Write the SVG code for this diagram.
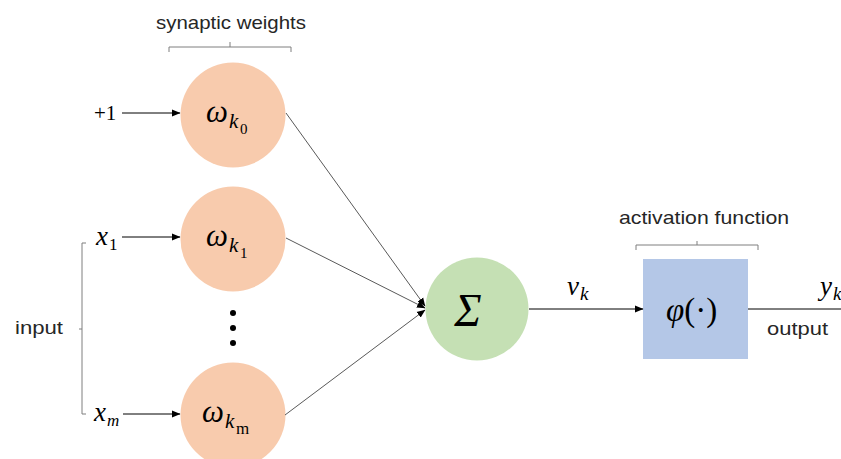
<svg xmlns="http://www.w3.org/2000/svg" width="841" height="459" viewBox="0 0 841 459">
<style>
.lbl{font-family:"Liberation Sans","DejaVu Sans",sans-serif;font-size:19px;fill:#262626}
.m{font-family:"Liberation Serif","DejaVu Serif",serif;font-style:italic;fill:#000}
.u{font-family:"Liberation Serif","DejaVu Serif",serif;font-style:normal;fill:#000}
.w{fill:#f8cbad}
.brace{fill:none;stroke:#7f7f7f;stroke-width:1}
.in{stroke:#000;stroke-width:1;fill:none}
.cn{stroke:#595959;stroke-width:1;fill:none}
</style>
<defs>
<marker id="ah" markerUnits="userSpaceOnUse" markerWidth="9" markerHeight="8" refX="8" refY="4" orient="auto">
<path d="M0,0.5 L8.5,4 L0,7.5 z" fill="#000"/>
</marker>
</defs>
<rect width="841" height="459" fill="#fff"/>

<g id="labels">
<text class="lbl" x="231" y="29" text-anchor="middle" textLength="150" lengthAdjust="spacingAndGlyphs">synaptic weights</text>
<path class="brace" d="M169,52 V47 H291 V52 M230,47 V42"/>
<text class="lbl" x="704" y="224" text-anchor="middle" textLength="170" lengthAdjust="spacingAndGlyphs">activation function</text>
<path class="brace" d="M636,250 V245 H758 V250 M697,245 V241"/>
<text class="lbl" x="15" y="334" textLength="48" lengthAdjust="spacingAndGlyphs">input</text>
<path class="brace" d="M86,243 H82 V414 H86 M82,329 H79"/>
<text class="lbl" x="767" y="335" textLength="61" lengthAdjust="spacingAndGlyphs">output</text>
</g>

<g id="inputs">
<text class="u" x="94" y="120" font-size="21">+1</text>
<text class="m" x="96" y="245" font-size="27">x</text><text class="u" x="109" y="250" font-size="17">1</text>
<text class="m" x="94" y="421" font-size="27">x</text><text class="m" x="107" y="426" font-size="17">m</text>
</g>

<g id="w0">
<circle class="w" cx="233" cy="115" r="52.5"/>
<text class="m" x="206" y="122" font-size="31">ω</text>
<text class="m" x="229" y="128" font-size="21">k</text>
<text class="u" x="240" y="134" font-size="15">0</text>
</g>
<g id="w1">
<circle class="w" cx="233" cy="239" r="52.5"/>
<text class="m" x="206" y="246" font-size="31">ω</text>
<text class="m" x="229" y="252" font-size="21">k</text>
<text class="u" x="240" y="258" font-size="15">1</text>
</g>
<g id="dots">
<circle cx="233" cy="313" r="3" fill="#000"/>
<circle cx="233" cy="328" r="3" fill="#000"/>
<circle cx="233" cy="343" r="3" fill="#000"/>
</g>
<g id="wm">
<circle class="w" cx="233" cy="415" r="52.5"/>
<text class="m" x="202" y="422" font-size="31">ω</text>
<text class="m" x="225" y="428" font-size="21">k</text>
<text class="u" x="236" y="434" font-size="17">m</text>
</g>

<g id="sum">
<circle cx="477" cy="309" r="51.5" fill="#c5e0b4"/>
<text class="m" x="468" y="326" font-size="46" text-anchor="middle">Σ</text>
</g>

<g id="act">
<rect x="643" y="259" width="105" height="100" fill="#b4c7e7"/>
<text class="m" x="666" y="321" font-size="33">φ<tspan class="u" font-style="normal">(·)</tspan></text>
</g>

<g id="signals">
<text class="m" x="567" y="295" font-size="27">v</text><text class="m" x="580" y="300" font-size="19">k</text>
<text class="m" x="820" y="295" font-size="27">y</text><text class="m" x="833" y="300" font-size="19">k</text>
</g>

<g id="connectors">
<line class="in" x1="122" y1="113" x2="180" y2="113" marker-end="url(#ah)"/>
<line class="in" x1="122" y1="237" x2="180" y2="237" marker-end="url(#ah)"/>
<line class="in" x1="123" y1="414" x2="180" y2="414" marker-end="url(#ah)"/>
<line class="cn" x1="286" y1="113" x2="425" y2="306" marker-end="url(#ah)"/>
<line class="cn" x1="286" y1="238" x2="425" y2="308" marker-end="url(#ah)"/>
<line class="cn" x1="285" y1="415" x2="425" y2="310" marker-end="url(#ah)"/>
<line class="in" x1="529" y1="309" x2="643" y2="309" marker-end="url(#ah)"/>
<line class="in" x1="748" y1="309" x2="841" y2="309"/>
</g>
</svg>
